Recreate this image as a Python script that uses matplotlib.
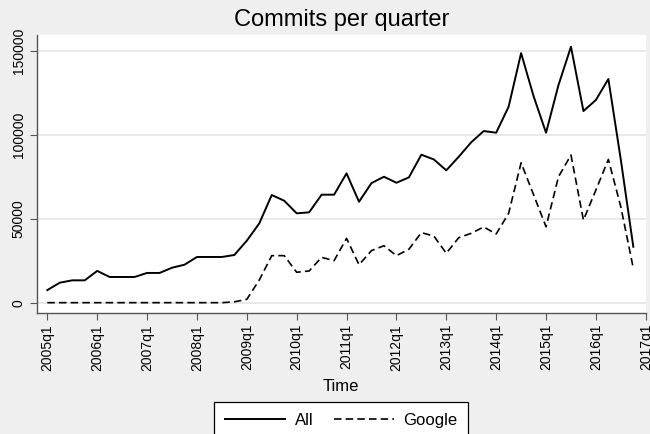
import numpy as np
import matplotlib.pyplot as plt

plt.rcParams["font.family"] = ["Liberation Sans", "DejaVu Sans"]

# quarterly commits, 2005q1 .. 2016q4
quarters = [f"{y}q{q}" for y in range(2005, 2017) for q in range(1, 5)]
all_commits = [7500, 11900, 13300, 13300, 18900, 15300, 15300, 15300,
               17700, 17700, 20800, 22600, 27200, 27200, 27200, 28400,
               36900, 47200, 64100, 60700, 53200, 53800, 64300, 64300,
               77000, 60100, 71200, 75000, 71400, 74600, 88100, 85300,
               78800, 86900, 95500, 102200, 101200, 116700, 148600, 123000,
               101200, 129600, 152400, 114100, 120700, 133200, 85000, 33300]
google_commits = [0, 0, 0, 0, 0, 0, 0, 0,
                  0, 0, 0, 0, 0, 0, 0, 500,
                  2000, 13500, 28000, 28000, 18100, 18900, 27000, 25000,
                  38300, 22600, 31000, 33900, 28000, 31800, 41700, 39700,
                  29400, 38700, 41300, 45100, 40900, 53200, 83300, 64300,
                  45200, 75000, 87900, 49200, 67100, 85300, 57000, 20500]
tick_labels = [f"{y}q1" for y in range(2005, 2018)]
y_ticks = [0, 50000, 100000, 150000]

bg = "#efefef"
x = np.arange(len(quarters))

fig = plt.figure(figsize=(6.5, 4.34), dpi=100, facecolor=bg)
ax = fig.add_axes([0.0565, 0.279, 0.937, 0.640])
ax.set_facecolor("white")

ax.grid(axis="y", color="#e4e4e4", linewidth=1.2, zorder=0)
ax.plot(x, all_commits, color="black", linewidth=1.4, label="All", zorder=3)
ax.plot(x, google_commits, color="black", linewidth=1.2, dashes=(4.5, 2.5),
        label="Google", zorder=3)

ax.set_xlim(-0.85, 48)
ax.set_ylim(-6100, 159300)
ax.set_xticks(np.arange(0, 49, 4), tick_labels, rotation=90, fontsize=10)
ax.set_yticks(y_ticks, [str(v) for v in y_ticks], rotation=90, va="center", fontsize=10)
ax.tick_params(length=5, color="#555555", pad=3)

for side in ["top", "right"]:
    ax.spines[side].set_visible(False)
for side in ["left", "bottom"]:
    ax.spines[side].set_color("#555555")
    ax.spines[side].set_linewidth(1.0)

ax.set_xlabel("Time", fontsize=12, labelpad=6)
fig.text(0.525, 0.955, "Commits per quarter", ha="center", va="center", fontsize=17)

leg = fig.legend(loc="upper center", bbox_to_anchor=(0.525, 0.074), ncol=2,
                 fontsize=12, handlelength=3.6, columnspacing=1.2, handletextpad=0.6,
                 borderpad=0.65, fancybox=False, edgecolor="black", framealpha=1,
                 borderaxespad=0)
leg.get_frame().set_linewidth(0.9)

fig.savefig("out.png", dpi=100, facecolor=bg)
